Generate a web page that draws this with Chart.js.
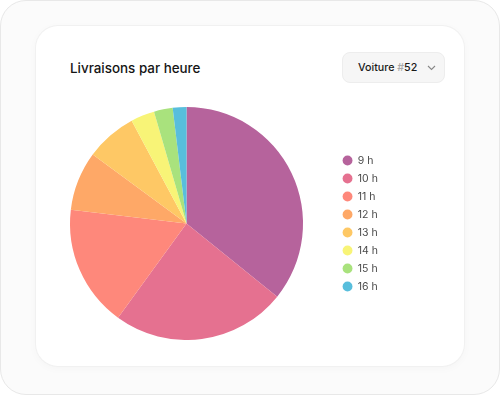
<!DOCTYPE html>
<html>
<head>
<meta charset="utf-8">
<script src="https://cdn.jsdelivr.net/npm/chart.js@4.4.0/dist/chart.umd.min.js"></script>
<style>
  html, body { margin: 0; padding: 0; }
  body {
    width: 500px; height: 395px; position: relative; overflow: hidden;
    background: #ffffff; font-family: Inter, "Noto Sans", sans-serif;
  }
  .frame {
    position: absolute; left: 0; top: 0; width: 498px; height: 393px;
    border: 1px solid #e8e8e8; border-radius: 26px; background: #fbfbfb;
  }
  .card {
    position: absolute; left: 36px; top: 26px; width: 428px; height: 340px;
    background: #fff; border-radius: 22px;
    box-shadow: 0 0 0 1px #f1f1f1, 0 2px 10px rgba(0,0,0,0.03);
  }
  .title {
    position: absolute; left: 70px; top: 59px; font-size: 13.4px; font-weight: 500;
    color: #151515; line-height: 18px;
  }
  .select {
    position: absolute; left: 342px; top: 52px; width: 103px; height: 31px;
    background: #f6f6f6; border: 1px solid #ededed; border-radius: 8px; box-sizing: border-box;
  }
  .select span {
    position: absolute; left: 15px; top: 7px; font-size: 10.7px; font-weight: 500; color: #1a1a1a; line-height: 15px;
  }
  .select span em { font-style: normal; color: #a8a8a8; }
  .select svg { position: absolute; left: 84px; top: 12px; }
  #wrap { position: absolute; left: 38px; top: 107px; width: 350px; height: 233px; }
</style>
</head>
<body>
<div class="frame"></div>
<div class="card"></div>
<div class="title">Livraisons par heure</div>
<div class="select"><span>Voiture <em>#</em>52</span>
  <svg width="9" height="6" viewBox="0 0 9 6"><path d="M1 1 L4.5 4.5 L8 1" fill="none" stroke="#888" stroke-width="1.1"/></svg>
</div>
<div id="wrap"><canvas id="pie"></canvas></div>
<script>
const hours = ["9 h", "10 h", "11 h", "12 h", "13 h", "14 h", "15 h", "16 h"];
const deliveries = [35.8, 24.2, 16.9, 8.2, 7.1, 3.3, 2.6, 1.9];
const sliceColors = ["#b6639c", "#e57190", "#fe887b", "#fea867", "#fec865", "#f8f477", "#a9e27d", "#58bedc"];

const ctx = document.getElementById("pie").getContext("2d");
const pieChart = new Chart(ctx, {
    type: "pie",
    data: {
        labels: hours,
        datasets: [{
            data: deliveries,
            backgroundColor: sliceColors,
            borderWidth: 0
        }]
    },
    options: {
        responsive: true,
        maintainAspectRatio: false,
        animation: false,
        layout: { padding: 0 },
        plugins: {
            tooltip: { enabled: false },
            legend: {
                position: "right",
                labels: {
                    usePointStyle: true,
                    pointStyle: "circle",
                    boxWidth: 10,
                    boxHeight: 7,
                    padding: 7.5,
                    color: "#4a4a4a",
                    font: { family: "Inter", size: 10.5 }
                }
            }
        }
    }
});
</script>
</body>
</html>
